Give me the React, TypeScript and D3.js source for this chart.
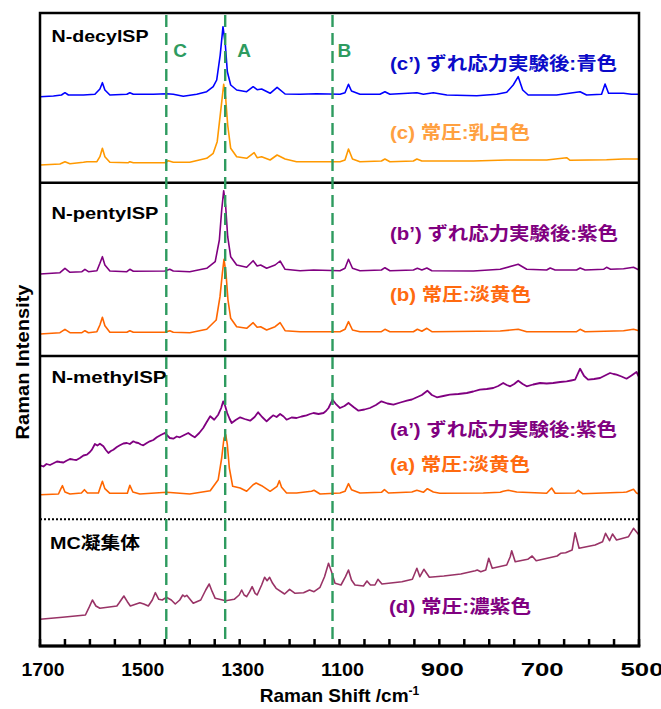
import React from "react";
import * as d3 from "d3";

type Pt = [number, number];

// wavenumber (cm-1), intensity (arb. units, stacked offset)
const specCPrime: Pt[] = [
  [1700, 549.3], [1673, 550], [1657, 551], [1650, 553.3], [1643, 551], [1613, 551], [1590, 551.7], [1580, 557],
  [1575, 563.3], [1570, 556], [1560, 551], [1526, 551.7], [1520, 553.3], [1513, 551.7], [1473, 551.7], [1446, 552.3],
  [1433, 551.7], [1413, 549.7], [1386, 551.7], [1366, 554.3], [1353, 559.3], [1346, 566], [1339, 591], [1333.4, 619.3],
  [1328.7, 601], [1324.7, 574.3], [1318, 561], [1306, 556], [1286, 554.3], [1273, 559.3], [1265, 556.3], [1256, 557],
  [1239, 552.7], [1225, 558.7], [1209, 552], [1179, 551.7], [1146, 552.3], [1099, 551.7], [1089, 553.3], [1082, 561.7],
  [1076, 555], [1059, 551.7], [1019, 551.7], [1009, 554.3], [999, 551.7], [945, 553.3], [932, 551.7], [912, 553.3],
  [885, 551], [825, 550.3], [785, 551.7], [765, 553.7], [752, 561], [742, 569.3], [733, 556], [722, 551], [665, 551],
  [618, 554.3], [605, 551], [575, 551.7], [568, 562], [561, 552.7], [531, 552.7], [515, 551.7], [500, 551.7],
];

const specC: Pt[] = [
  [1700, 481], [1660, 482], [1650, 484.3], [1640, 482.3], [1613, 483.7], [1606, 484.3], [1586, 484.3], [1580, 489.3],
  [1575, 497.7], [1570, 489.3], [1560, 483.7], [1523, 483.3], [1520, 484.3], [1513, 483.3], [1450, 483.3], [1443, 485.3],
  [1433, 483.7], [1400, 483.7], [1366, 487.7], [1353, 492.7], [1345, 504.3], [1337.4, 537.7], [1332, 561.7], [1328, 547.7],
  [1324, 521], [1318, 497.7], [1306, 489.3], [1286, 487.7], [1271, 493.3], [1265, 488.3], [1256, 489.3], [1239, 486],
  [1225, 491], [1209, 487], [1186, 484.3], [1132, 484.3], [1099, 484.3], [1089, 486], [1082, 497], [1074, 487],
  [1059, 484.3], [1016, 485], [1009, 487], [999, 484.3], [952, 485], [945, 487], [935, 485], [832, 485], [765, 486],
  [685, 486], [645, 488.3], [638, 485.7], [565, 486.3], [531, 487], [500, 487],
];

const specBPrime: Pt[] = [
  [1700, 372], [1660, 373.3], [1650, 377.7], [1640, 373.7], [1616, 374.3], [1610, 376.7], [1603, 374.3], [1586, 375.3],
  [1580, 382.7], [1575, 389.3], [1570, 381], [1560, 375], [1526, 374.3], [1520, 376.7], [1513, 374.7], [1450, 375],
  [1440, 376.7], [1433, 375], [1400, 374.3], [1366, 377.7], [1349, 384.3], [1340.7, 406], [1336, 436], [1332, 455.3],
  [1328, 439.3], [1324, 409.3], [1318, 389.3], [1306, 381], [1286, 378.7], [1273, 385.3], [1265, 380], [1258, 381],
  [1246, 377.7], [1229, 381], [1219, 385], [1209, 376.7], [1179, 375.3], [1152, 376], [1099, 375.3], [1089, 377.7],
  [1082, 386.7], [1074, 377.7], [1059, 375.3], [1016, 376], [1009, 378.3], [999, 375.3], [952, 376], [944, 377.7],
  [935, 376], [925, 378], [915, 375.3], [832, 375], [778, 376.7], [742, 381.7], [725, 376.7], [685, 376], [678, 378],
  [668, 376], [625, 376], [618, 378], [608, 376], [571, 376.7], [565, 378.7], [557, 376.7], [531, 377.3], [511, 378.7],
  [500, 376],
];

const specB: Pt[] = [
  [1700, 312], [1660, 313.3], [1650, 316.7], [1640, 313.3], [1616, 313.3], [1610, 315.3], [1603, 313.3], [1586, 314.3],
  [1580, 321], [1575, 328.7], [1570, 320.3], [1560, 313.7], [1526, 313.7], [1520, 315.3], [1513, 313.7], [1450, 313.7],
  [1440, 315.3], [1433, 313.7], [1400, 313.3], [1366, 316.7], [1347, 326], [1339.4, 349.3], [1334.7, 372.7], [1331.4, 386.7],
  [1327.4, 372.7], [1323.4, 346], [1318, 327.7], [1306, 319.3], [1286, 317.7], [1273, 323.3], [1265, 318.7], [1258, 319.3],
  [1246, 316], [1229, 319.3], [1219, 323.3], [1209, 315.3], [1179, 314.3], [1099, 314.3], [1089, 316.7], [1082, 324.3],
  [1074, 316], [1059, 314.3], [1016, 314.3], [1009, 316.7], [999, 314.3], [952, 314.3], [944, 316.7], [935, 314.7],
  [925, 317.7], [915, 314.3], [778, 315], [742, 316.7], [725, 314.3], [625, 314.3], [618, 316.7], [608, 314.3],
  [531, 315.3], [511, 316.7], [500, 315.3],
];

const specAPrime: Pt[] = [
  [1700, 180.7], [1693, 179.5], [1687, 182], [1680, 181], [1673, 182.7], [1666, 184.5], [1660, 184], [1653, 183.5],
  [1647, 185.3], [1640, 187], [1633, 186.3], [1627, 186], [1620, 188], [1613, 190.5], [1606, 191.3], [1600, 194],
  [1596, 196.3], [1590, 202], [1585, 200.5], [1580, 202.3], [1573, 199.7], [1568, 196], [1563, 193], [1558, 195],
  [1553, 196.3], [1546, 199], [1540, 200.7], [1533, 202.5], [1526, 203], [1520, 202], [1513, 204.7], [1508, 203.5],
  [1503, 203], [1498, 201.5], [1493, 200.7], [1486, 203], [1480, 204.7], [1473, 206], [1466, 208.7], [1458, 211],
  [1450, 213], [1444, 210], [1440, 208], [1433, 207.3], [1426, 209.5], [1420, 208.7], [1411, 211], [1403, 213],
  [1396, 210.5], [1390, 208.7], [1381, 213], [1373, 218], [1366, 224], [1359, 229.7], [1351, 226.3], [1343, 231.3],
  [1337, 238], [1333, 244.7], [1329, 240], [1325, 233], [1320, 227], [1316, 223], [1308, 226], [1299, 228.7],
  [1290, 227], [1279, 225.3], [1270, 229], [1263, 233.7], [1255, 229], [1246, 224.7], [1239, 228], [1233, 230.7],
  [1226, 229], [1219, 232], [1212, 229.5], [1206, 226.3], [1196, 228.5], [1186, 228], [1176, 229.5], [1166, 230.7],
  [1159, 232], [1152, 233], [1142, 232], [1132, 233], [1127, 235], [1122, 238], [1114, 246.3], [1106, 241.3],
  [1099, 238], [1090, 240], [1082, 243], [1072, 239], [1062, 235.3], [1050, 236.5], [1039, 238], [1027, 241],
  [1016, 244.7], [1004, 242.5], [992, 241.3], [978, 243.5], [965, 245.3], [955, 246.5], [945, 248.7], [935, 251],
  [924, 255.3], [915, 251], [905, 248.7], [892, 250], [879, 251.3], [862, 252], [845, 253], [832, 254.5],
  [819, 256.3], [805, 257], [792, 258], [782, 260], [772, 263], [765, 261], [758, 259.7], [750, 262],
  [742, 265.3], [733, 262], [725, 259.7], [712, 261.5], [698, 263], [685, 262.5], [672, 263], [658, 264],
  [645, 264.7], [636, 265.5], [628, 266.3], [618, 277.3], [610, 270], [602, 266.3], [590, 267], [578, 268],
  [568, 270.5], [558, 273], [551, 272], [545, 271.3], [535, 269.5], [525, 267.3], [515, 270.5], [505, 274],
  [500, 269],
];

const specA: Pt[] = [
  [1700, 151.3], [1663, 152], [1659, 156.3], [1655, 160.3], [1650, 154], [1640, 152], [1617, 153], [1611, 156.3],
  [1605, 153], [1583, 153], [1578.5, 159.7], [1575, 164.7], [1570, 157.3], [1560, 152.7], [1525, 152.7], [1520, 160.7],
  [1514, 154], [1500, 152], [1446, 153.7], [1400, 152], [1359, 155.3], [1343, 166.3], [1336, 188], [1331.4, 208],
  [1328, 211.3], [1324.7, 201.3], [1320.7, 178], [1314, 159.7], [1299, 158], [1286, 154.7], [1273, 161.3], [1267, 163],
  [1256, 160.3], [1239, 154.7], [1225, 159.7], [1220.5, 165.3], [1216, 158.7], [1206, 153], [1186, 153], [1156, 154.7],
  [1151, 155.7], [1139, 152], [1099, 153], [1089, 154.7], [1082, 162.3], [1076, 156.3], [1059, 153], [1016, 153.7],
  [1010, 156.3], [1002, 153], [955, 154], [945, 155.7], [932, 153.7], [924, 157.3], [912, 154], [899, 152.7],
  [812, 153], [778, 153.7], [772, 154.7], [762, 155.7], [745, 154], [685, 152.7], [675, 158], [668, 152.7],
  [628, 153], [621.5, 155.7], [613, 152.3], [531, 153.7], [525, 154], [511, 156.7], [505, 153], [500, 152],
];

const specD: Pt[] = [
  [1700, 26.7], [1655, 28.7], [1609, 31], [1601, 39.3], [1595, 46], [1588, 40], [1580, 37.7], [1546, 40],
  [1542, 42.7], [1532, 50], [1525, 44.3], [1519, 40], [1500, 43.3], [1492, 42], [1483, 40], [1475, 46],
  [1469, 53.3], [1462, 46.7], [1455, 46], [1447, 48.7], [1437, 46], [1429, 42], [1420, 46], [1414, 51],
  [1410, 49.3], [1406, 50.7], [1393, 42.7], [1378, 46], [1368, 56], [1361, 62], [1355, 54.3], [1349, 47.7],
  [1328, 45.3], [1311, 46.7], [1301, 51], [1296, 56], [1291, 51], [1286, 49.3], [1280, 54.3], [1275, 59.3],
  [1269, 52.7], [1265, 51], [1256, 61], [1250, 68.7], [1245, 65.3], [1240, 68.7], [1234, 62.7], [1227, 57.7],
  [1210, 52], [1200, 56.7], [1189, 52.7], [1172, 53.3], [1160, 56], [1151, 54.3], [1139, 58.7], [1130, 69.3],
  [1122, 82.7], [1116, 74.3], [1109, 62.7], [1097, 61], [1088, 69.3], [1082, 76], [1076, 66], [1069, 61],
  [1052, 60], [1045, 65], [1038, 61], [1029, 61], [1023, 66.7], [1015, 62], [975, 64.3], [954, 66.7],
  [945, 77.7], [939, 69.3], [931, 76.7], [920, 68.7], [891, 70], [857, 72], [828, 75.3], [824, 76],
  [817, 74.3], [807, 76], [801, 87.7], [794, 77.7], [765, 81], [758, 89.3], [755, 95.3], [748, 84.3],
  [723, 86.7], [714, 90], [706, 85.3], [664, 90], [657, 92.7], [647, 93.3], [634, 96], [628, 113.3],
  [620, 97.7], [588, 101], [573, 104.3], [567, 112.7], [559, 105.3], [553, 112], [545, 106], [521, 109.3],
  [511, 117.7], [500, 111],
];

const xTickLabels = [1700, 1500, 1300, 1100, 900, 700, 500];
const xMinorTicks = [1650, 1600, 1550, 1450, 1400, 1350, 1250, 1200, 1150, 1050, 1000, 950, 850, 800, 750, 650, 600, 550];

const markerNames = ["C", "A", "B"];
const markerShifts = [1447, 1329, 1114];

const panelNames = ["N-decylSP", "N-pentylSP", "N-methylSP", "MC凝集体"];
const sampleLabels = [
  "(c’) ずれ応力実験後:青色",
  "(c) 常圧:乳白色",
  "(b’) ずれ応力実験後:紫色",
  "(b) 常圧:淡黄色",
  "(a’) ずれ応力実験後:紫色",
  "(a) 常圧:淡黄色",
  "(d) 常圧:濃紫色",
];

const W = 661;
const H = 709;
const L = 40, R = 639, T = 13, B = 646;
const FONT = "'Liberation Sans', Arial, 'Noto Sans CJK JP', sans-serif";
const GREEN = "#2E9B5F";

export default function App() {
  const x = d3.scaleLinear().domain([1700, 500]).range([L, R]);
  const y = d3.scaleLinear().domain([0, B - T]).range([B, T]);
  const line = d3
    .line<Pt>()
    .x((d) => x(d[0]))
    .y((d) => y(d[1]));

  const series = [
    { data: specCPrime, color: "#0000FF", w: 1.6 },
    { data: specC, color: "#FF9900", w: 1.6 },
    { data: specBPrime, color: "#800080", w: 1.6 },
    { data: specB, color: "#FF6600", w: 1.6 },
    { data: specAPrime, color: "#800080", w: 1.8 },
    { data: specA, color: "#FF6600", w: 1.6 },
    { data: specD, color: "#993366", w: 1.6 },
  ];

  const sampleStyle = [
    { x: 390, y: 70, len: 227, color: "#0B0BC8" },
    { x: 390, y: 139, len: 140, color: "#FFA040" },
    { x: 390, y: 240, len: 228, color: "#800080" },
    { x: 390, y: 300.5, len: 141, color: "#FF6A10" },
    { x: 390, y: 436, len: 227, color: "#800080" },
    { x: 390, y: 471, len: 140, color: "#FF6A10" },
    { x: 389, y: 613, len: 142, color: "#800080" },
  ];
  const panelStyle = [
    { x: 51.5, y: 41.5, len: 97 },
    { x: 51.5, y: 219.3, len: 107 },
    { x: 51.5, y: 383, len: 115 },
    { x: 50, y: 549.3, len: 90 },
  ];
  const markerLabelDx = [7, 12, 5];
  const sepSolid = [463.3, 290];
  const sepDotted = 126.7;

  return (
    <svg
      width={W}
      height={H}
      viewBox={`0 0 ${W} ${H}`}
      style={{ position: "absolute", left: 0, top: 0, background: "#fff" }}
      fontFamily={FONT}
    >
      <rect x={0} y={0} width={W} height={H} fill="#fff" />

      {series.map((s, i) => (
        <path key={i} d={line(s.data) || ""} fill="none" stroke={s.color} strokeWidth={s.w} strokeLinejoin="round" />
      ))}

      {sepSolid.map((v, i) => (
        <line key={i} x1={L} x2={R} y1={y(v)} y2={y(v)} stroke="#000" strokeWidth={2.5} />
      ))}
      <line x1={L} x2={R} y1={y(sepDotted)} y2={y(sepDotted)} stroke="#000" strokeWidth={2} strokeDasharray="2 2" />

      {markerShifts.map((m, i) => (
        <line
          key={i}
          x1={x(m)}
          x2={x(m)}
          y1={T + 2}
          y2={B - 2}
          stroke={GREEN}
          strokeWidth={2.4}
          strokeDasharray="12 6"
        />
      ))}
      {markerNames.map((n, i) => (
        <text
          key={n}
          x={x(markerShifts[i]) + markerLabelDx[i]}
          y={57}
          fill={GREEN}
          fontSize={19}
          fontWeight="bold"
        >
          {n}
        </text>
      ))}

      <rect x={L} y={T} width={R - L} height={B - T} fill="none" stroke="#000" strokeWidth={2.5} />
      <line x1={L - 1.25} x2={R + 1.25} y1={B} y2={B} stroke="#000" strokeWidth={3} />

      {[...xTickLabels, ...xMinorTicks].map((t) => (
        <line key={t} x1={x(t)} x2={x(t)} y1={B} y2={B - 7} stroke="#000" strokeWidth={2.5} />
      ))}
      {xTickLabels.map((t) => (
        <text key={t} x={x(t) + 3} y={676} textAnchor="middle" fontSize={18} fontWeight="bold" textLength={43} lengthAdjust="spacingAndGlyphs">
          {t}
        </text>
      ))}

      <text x={(L + R) / 2} y={702} textAnchor="middle" fontSize={19} fontWeight="bold">
        <tspan>Raman Shift /cm</tspan>
        <tspan fontSize={12} dy={-7}>-1</tspan>
      </text>
      <text
        transform={`translate(29, 362) rotate(-90)`}
        textAnchor="middle"
        fontSize={18}
        fontWeight="bold"
        textLength={155}
        lengthAdjust="spacingAndGlyphs"
      >
        Raman Intensity
      </text>

      {panelNames.map((n, i) => (
        <text
          key={n}
          x={panelStyle[i].x}
          y={panelStyle[i].y}
          fontSize={17}
          fontWeight="bold"
          textLength={panelStyle[i].len}
          lengthAdjust="spacingAndGlyphs"
        >
          {n}
        </text>
      ))}

      {sampleLabels.map((s, i) => (
        <text
          key={s + i}
          x={sampleStyle[i].x}
          y={sampleStyle[i].y}
          fill={sampleStyle[i].color}
          fontSize={18}
          fontWeight="bold"
          textLength={sampleStyle[i].len}
          lengthAdjust="spacingAndGlyphs"
        >
          {s}
        </text>
      ))}
    </svg>
  );
}
